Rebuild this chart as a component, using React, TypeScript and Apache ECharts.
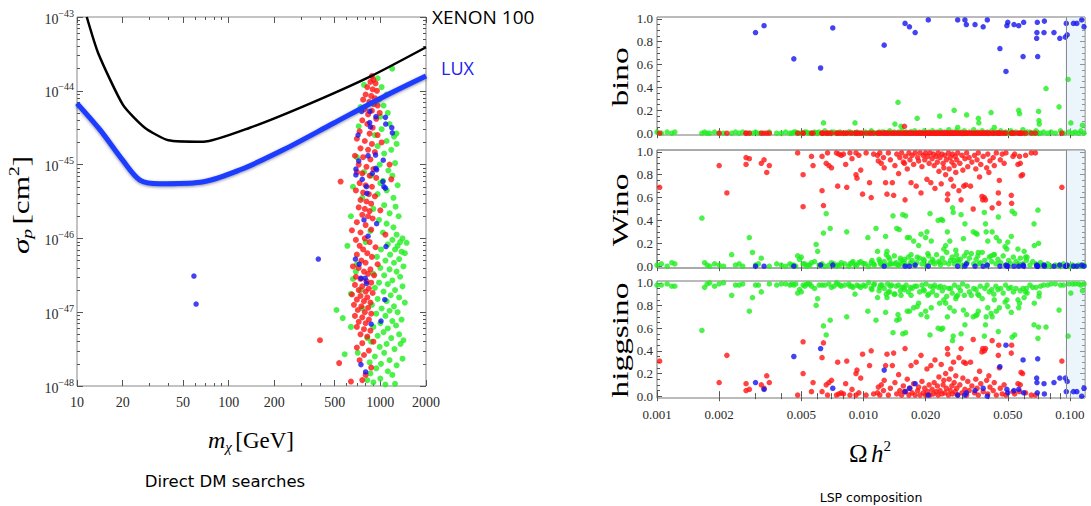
import React, { useEffect, useRef } from "react";
import * as echarts from "echarts";

// ---------- tick labels ----------
const massTicks = [10, 20, 50, 100, 200, 500, 1000, 2000];
const massMinor = [30, 40, 60, 70, 80, 90, 300, 400, 600, 700, 800, 900];
const sigmaTicks = [-48, -47, -46, -45, -44, -43];
const omegaTicks = [0.001, 0.002, 0.005, 0.01, 0.02, 0.05, 0.1];
const omegaMinor = [0.003, 0.004, 0.006, 0.007, 0.008, 0.009, 0.03, 0.04, 0.06, 0.07, 0.08, 0.09];
const fracTicks = [0, 0.2, 0.4, 0.6, 0.8, 1.0];
const fracMinor = [0.05, 0.1, 0.15, 0.25, 0.3, 0.35, 0.45, 0.5, 0.55, 0.65, 0.7, 0.75, 0.85, 0.9, 0.95];
const panelNames = ["bino", "Wino", "higgsino"];
const relicBand = [0.095, 0.1183];

// ---------- exclusion limits: [mass GeV, log10 sigma_p cm^2] ----------
const xenon100Limit = [[11.6, -43.0], [13.8, -43.49], [20.1, -44.19], [28, -44.5], [40, -44.67], [68, -44.69], [138, -44.5], [328, -44.19], [890, -43.79], [2000, -43.41]];
const luxLimit = [[10, -44.17], [14.2, -44.53], [20, -44.94], [26, -45.21], [35, -45.26], [65, -45.24], [119, -45.07], [229, -44.8], [490, -44.44], [1050, -44.08], [2000, -43.8]];

// ---------- direct detection scan points: [mass GeV, log10 sigma_p] ----------
const directBlue = [[59, -46.51], [61, -46.89], [390, -46.28], [753, -44.28], [853, -44.28], [850, -44.43], [860, -44.49], [935, -44.35], [713, -44.6], [1080, -44.36], [1085, -44.45], [1190, -44.5], [1200, -44.57], [720, -44.95], [690, -45.06], [690, -45.14], [760, -45.2], [830, -44.88], [930, -44.87], [935, -45.05], [945, -45.07], [885, -45.12], [1045, -44.94], [1040, -45.23], [1055, -45.3], [1080, -45.32], [810, -45.3], [815, -45.39], [780, -45.75], [945, -45.8], [830, -45.97], [1090, -46.11], [685, -46.28], [725, -46.35], [745, -46.54], [795, -46.54], [810, -46.61], [1070, -46.83], [870, -47.16], [1010, -47.12], [745, -47.71], [800, -47.81]];
const directRed = [[880, -43.8], [900, -43.85], [860, -43.88], [930, -43.9], [820, -43.95], [890, -43.98], [950, -44.0], [800, -44.05], [870, -44.07], [920, -44.1], [770, -44.12], [845, -44.15], [905, -44.18], [960, -44.2], [790, -44.25], [880, -44.27], [830, -44.32], [990, -44.3], [940, -44.38], [760, -44.4], [820, -44.45], [890, -44.5], [730, -44.55], [850, -44.58], [960, -44.6], [700, -44.65], [790, -44.68], [880, -44.72], [1020, -44.7], [740, -44.78], [830, -44.8], [920, -44.83], [680, -44.88], [770, -44.9], [860, -44.93], [1150, -45.0], [720, -45.0], [810, -45.03], [900, -45.06], [700, -45.1], [760, -45.12], [850, -45.15], [940, -45.18], [1180, -45.2], [547, -45.23], [730, -45.25], [800, -45.28], [880, -45.3], [690, -45.35], [770, -45.38], [840, -45.4], [920, -45.43], [740, -45.48], [810, -45.5], [870, -45.53], [720, -45.58], [790, -45.6], [850, -45.63], [1000, -45.62], [760, -45.68], [830, -45.7], [890, -45.73], [700, -45.78], [800, -45.82], [650, -45.89], [870, -45.88], [740, -45.92], [1080, -45.95], [790, -46.0], [690, -46.02], [850, -46.05], [730, -46.1], [930, -46.12], [770, -46.15], [820, -46.2], [700, -46.22], [880, -46.25], [750, -46.3], [800, -46.33], [960, -46.35], [660, -46.38], [720, -46.4], [860, -46.42], [780, -46.45], [830, -46.48], [910, -46.5], [690, -46.52], [740, -46.55], [810, -46.58], [870, -46.6], [680, -46.63], [760, -46.65], [840, -46.68], [720, -46.7], [800, -46.72], [890, -46.74], [650, -46.76], [740, -46.78], [820, -46.8], [700, -46.83], [780, -46.85], [860, -46.87], [670, -46.9], [750, -46.92], [830, -46.94], [710, -46.97], [790, -47.0], [870, -47.02], [680, -47.05], [760, -47.07], [840, -47.1], [720, -47.13], [800, -47.15], [700, -47.2], [780, -47.23], [860, -47.25], [740, -47.3], [820, -47.33], [400, -47.38], [900, -47.4], [760, -47.42], [700, -47.48], [840, -47.52], [780, -47.58], [535, -47.69], [730, -47.65], [870, -47.75], [800, -47.85], [640, -47.94], [760, -47.92]];
const directGreen = [[1197, -43.7], [960, -43.83], [1020, -43.95], [780, -43.92], [1100, -44.05], [980, -44.12], [1050, -44.2], [740, -44.22], [1120, -44.3], [1000, -44.35], [1277, -44.58], [1150, -44.45], [720, -44.48], [1020, -44.52], [1230, -44.62], [1100, -44.68], [960, -44.75], [1280, -44.72], [1180, -44.8], [1060, -44.85], [1250, -44.98], [990, -45.0], [1130, -45.08], [780, -45.1], [1200, -45.15], [1040, -45.22], [1300, -45.28], [1100, -45.35], [960, -45.4], [1220, -45.45], [1260, -45.57], [1060, -45.55], [900, -45.6], [1150, -45.66], [1320, -45.7], [980, -45.75], [1100, -45.8], [1220, -45.85], [860, -45.9], [1040, -45.92], [1280, -45.95], [606, -46.1], [1450, -46.2], [1490, -46.06], [1400, -46.0], [1350, -46.05], [1300, -46.1], [1200, -46.02], [1120, -46.08], [1010, -46.15], [1250, -46.15], [1380, -46.18], [1160, -46.22], [950, -46.25], [1330, -46.28], [1080, -46.3], [1230, -46.33], [700, -46.35], [1420, -46.38], [1000, -46.4], [1150, -46.42], [1280, -46.45], [900, -46.48], [1060, -46.5], [1350, -46.52], [660, -46.55], [1200, -46.57], [980, -46.6], [1120, -46.62], [1400, -46.65], [920, -46.67], [1250, -46.7], [1050, -46.72], [640, -46.75], [1170, -46.77], [1330, -46.8], [960, -46.82], [1100, -46.85], [1450, -46.87], [880, -46.9], [1230, -46.92], [1020, -46.95], [514, -46.97], [1150, -46.98], [1300, -47.0], [940, -47.02], [1080, -47.05], [565, -47.08], [1380, -47.1], [1200, -47.12], [1000, -47.15], [1270, -47.18], [900, -47.2], [1120, -47.22], [1050, -47.27], [1330, -47.3], [960, -47.32], [1180, -47.35], [1420, -47.38], [870, -47.4], [1100, -47.43], [1360, -47.43], [990, -47.47], [1240, -47.5], [582, -47.57], [1060, -47.55], [920, -47.6], [1400, -47.63], [1150, -47.65], [850, -47.68], [1010, -47.7], [1280, -47.72], [940, -47.76], [1120, -47.8], [860, -47.83], [1200, -47.85], [1000, -47.9], [900, -47.95], [1250, -47.97], [1080, -47.98], [820, -47.92], [700, -44.9], [660, -45.3], [640, -45.7], [920, -44.6], [760, -45.45], [1000, -45.25], [870, -45.15], [690, -46.45], [760, -46.95], [820, -47.35], [710, -47.55], [640, -47.2], [800, -46.05], [740, -46.7]];

// ---------- LSP composition points: [Omega h^2, bino, wino, higgsino] ----------
const lspBlue = [[0.003, 0.88, 0.0, 0.12], [0.0033, 0.94, 0.0, 0.06], [0.0046, 0.65, 0.0, 0.35], [0.0062, 0.57, 0.01, 0.42], [0.0071, 0.92, 0.01, 0.07], [0.0126, 0.77, 0.0, 0.23], [0.0159, 0.96, 0.0, 0.04], [0.0167, 0.93, 0.0, 0.07], [0.0178, 0.88, 0.01, 0.11], [0.0206, 0.99, 0.0, 0.01], [0.0286, 0.99, 0.0, 0.01], [0.031, 0.99, 0.0, 0.01], [0.0315, 0.95, 0.02, 0.03], [0.0347, 0.95, 0.0, 0.05], [0.038, 0.93, 0.0, 0.07], [0.0398, 0.99, 0.01, 0.0], [0.0458, 0.74, 0.0, 0.26], [0.049, 0.54, 0.01, 0.45], [0.0495, 0.94, 0.0, 0.06], [0.05, 0.97, 0.0, 0.03], [0.0536, 0.95, 0.0, 0.05], [0.0565, 0.94, 0.0, 0.06], [0.0593, 0.67, 0.01, 0.32], [0.0597, 0.97, 0.0, 0.03], [0.069, 0.83, 0.01, 0.16], [0.0692, 0.88, 0.0, 0.12], [0.0695, 0.97, 0.0, 0.03], [0.0698, 0.67, 0.0, 0.33], [0.0749, 0.88, 0.01, 0.11], [0.0752, 0.98, 0.0, 0.02], [0.0837, 0.88, 0.0, 0.12], [0.0893, 0.83, 0.01, 0.16], [0.095, 0.84, 0.0, 0.16], [0.096, 0.96, 0.0, 0.04], [0.097, 0.86, 0.01, 0.13], [0.104, 0.96, 0.0, 0.04], [0.108, 0.96, 0.0, 0.04], [0.114, 0.99, 0.01, 0.0], [0.117, 0.93, 0.0, 0.07]];
const lspRed = [[0.00103, 0, 0.69, 0.31], [0.002, 0, 0.88, 0.12], [0.00218, 0, 0.64, 0.36], [0.0027, 0, 0.95, 0.05], [0.0027, 0, 0.89, 0.11], [0.0028, 0, 0.94, 0.06], [0.0032, 0, 0.9, 0.1], [0.0033, 0, 0.93, 0.07], [0.0034, 0, 0.82, 0.18], [0.0035, 0, 0.88, 0.12], [0.0048, 0, 0.99, 0.01], [0.0051, 0, 0.52, 0.48], [0.0051, 0, 0.8, 0.2], [0.0056, 0, 0.96, 0.04], [0.0057, 0, 0.88, 0.12], [0.0063, 0, 0.96, 0.04], [0.0063, 0, 0.66, 0.34], [0.0064, 0, 0.53, 0.47], [0.0066, 0, 0.9, 0.1], [0.0067, 0, 0.99, 0.01], [0.0068, 0, 0.88, 0.12], [0.007, 0, 0.86, 0.14], [0.0074, 0, 0.99, 0.01], [0.0075, 0, 0.7, 0.3], [0.0076, 0, 0.98, 0.02], [0.0078, 0, 0.97, 0.03], [0.008, 0, 0.98, 0.02], [0.0082, 0, 0.89, 0.11], [0.0083, 0, 0.69, 0.31], [0.0086, 0, 0.99, 0.01], [0.0088, 0, 0.94, 0.06], [0.0092, 0, 0.99, 0.01], [0.0092, 0, 0.8, 0.2], [0.0093, 0, 0.77, 0.23], [0.0095, 0, 0.97, 0.03], [0.0097, 0, 0.84, 0.16], [0.0099, 0, 0.63, 0.37], [0.0103, 0, 0.99, 0.01], [0.0107, 0, 0.73, 0.27], [0.0109, 0, 0.6, 0.4], [0.0112, 0, 0.98, 0.02], [0.0117, 0, 0.97, 0.03], [0.0118, 0, 0.92, 0.08], [0.012, 0, 0.99, 0.01], [0.0122, 0, 0.9, 0.1], [0.0125, 0, 0.95, 0.05], [0.0126, 0, 0.86, 0.14], [0.0128, 0, 0.73, 0.27], [0.013, 0, 0.63, 0.37], [0.0132, 0, 0.99, 0.01], [0.0135, 0, 0.93, 0.07], [0.0138, 0, 0.73, 0.27], [0.014, 0, 0.62, 0.38], [0.0142, 0, 0.88, 0.12], [0.0145, 0, 0.98, 0.02], [0.0148, 0, 0.81, 0.19], [0.015, 0, 0.95, 0.05], [0.0153, 0, 0.99, 0.01], [0.0156, 0, 0.91, 0.09], [0.0158, 0.06, 0.9, 0.04], [0.0159, 0, 0.58, 0.42], [0.016, 0, 0.96, 0.04], [0.0163, 0, 0.85, 0.15], [0.0166, 0, 0.99, 0.01], [0.0168, 0, 0.93, 0.07], [0.017, 0, 0.73, 0.27], [0.0172, 0, 0.97, 0.03], [0.0175, 0, 0.89, 0.11], [0.0178, 0, 0.99, 0.01], [0.018, 0, 0.7, 0.3], [0.0183, 0, 0.95, 0.05], [0.0185, 0, 0.92, 0.08], [0.0188, 0, 0.99, 0.01], [0.019, 0, 0.64, 0.36], [0.0192, 0, 0.87, 0.13], [0.0195, 0, 0.97, 0.03], [0.0198, 0, 0.93, 0.07], [0.02, 0, 0.99, 0.01], [0.0203, 0, 0.76, 0.24], [0.0205, 0, 0.96, 0.04], [0.0208, 0, 0.9, 0.1], [0.021, 0, 0.99, 0.01], [0.0212, 0, 0.73, 0.27], [0.0215, 0, 0.94, 0.06], [0.0218, 0, 0.98, 0.02], [0.022, 0, 0.88, 0.12], [0.0222, 0, 0.68, 0.32], [0.0225, 0, 0.96, 0.04], [0.0228, 0, 0.91, 0.09], [0.023, 0, 0.99, 0.01], [0.0232, 0, 0.83, 0.17], [0.0235, 0, 0.95, 0.05], [0.0238, 0, 0.72, 0.28], [0.024, 0, 0.98, 0.02], [0.0243, 0, 0.9, 0.1], [0.0245, 0, 0.86, 0.14], [0.0248, 0, 0.97, 0.03], [0.025, 0, 0.8, 0.2], [0.0252, 0, 0.93, 0.07], [0.0255, 0, 0.58, 0.42], [0.0256, 0, 0.63, 0.37], [0.0258, 0, 0.99, 0.01], [0.026, 0, 0.85, 0.15], [0.0263, 0, 0.95, 0.05], [0.0265, 0, 0.76, 0.24], [0.0268, 0, 0.91, 0.09], [0.027, 0, 0.98, 0.02], [0.0273, 0, 0.7, 0.3], [0.0275, 0, 0.88, 0.12], [0.0278, 0, 0.96, 0.04], [0.028, 0, 0.82, 0.18], [0.0283, 0, 0.93, 0.07], [0.0286, 0, 0.99, 0.01], [0.029, 0, 0.66, 0.34], [0.0293, 0, 0.9, 0.1], [0.0297, 0, 0.58, 0.42], [0.03, 0, 0.97, 0.03], [0.0303, 0, 0.84, 0.16], [0.0306, 0, 0.7, 0.3], [0.031, 0, 0.94, 0.06], [0.0313, 0, 0.71, 0.29], [0.0316, 0, 0.99, 0.01], [0.032, 0, 0.87, 0.13], [0.0325, 0, 0.95, 0.05], [0.033, 0, 0.7, 0.3], [0.0335, 0, 0.91, 0.09], [0.034, 0, 0.5, 0.5], [0.0345, 0, 0.97, 0.03], [0.035, 0, 0.85, 0.15], [0.0355, 0, 0.93, 0.07], [0.036, 0, 0.99, 0.01], [0.0365, 0, 0.78, 0.22], [0.037, 0, 0.89, 0.11], [0.0375, 0, 0.61, 0.39], [0.0378, 0, 0.58, 0.42], [0.038, 0, 0.96, 0.04], [0.0385, 0, 0.6, 0.4], [0.039, 0, 0.58, 0.42], [0.0395, 0, 0.86, 0.14], [0.04, 0, 0.98, 0.02], [0.0405, 0, 0.82, 0.18], [0.041, 0, 0.92, 0.08], [0.042, 0, 0.51, 0.49], [0.0425, 0, 0.95, 0.05], [0.043, 0, 0.88, 0.12], [0.044, 0, 0.99, 0.01], [0.045, 0, 0.64, 0.36], [0.0452, 0, 0.55, 0.45], [0.0455, 0, 0.75, 0.25], [0.046, 0, 0.93, 0.07], [0.047, 0, 0.98, 0.02], [0.048, 0, 0.9, 0.1], [0.049, 0, 0.99, 0.01], [0.052, 0, 0.62, 0.38], [0.0522, 0, 0.55, 0.45], [0.053, 0, 0.96, 0.04], [0.054, 0, 0.98, 0.02], [0.056, 0, 0.89, 0.11], [0.057, 0, 0.96, 0.04], [0.0575, 0, 0.9, 0.1], [0.058, 0, 0.79, 0.21], [0.059, 0, 0.8, 0.2], [0.061, 0, 0.97, 0.03], [0.065, 0, 0.99, 0.01], [0.068, 0, 0.99, 0.01], [0.0914, 0, 0.69, 0.31]];
const lspGreen = [[0.001, 0.01, 0.01, 0.98], [0.00105, 0, 0.02, 0.98], [0.00112, 0.01, 0.0, 0.99], [0.00118, 0, 0.03, 0.97], [0.00122, 0.01, 0.02, 0.97], [0.00165, 0, 0.42, 0.58], [0.0017, 0.01, 0.03, 0.96], [0.00175, 0, 0.01, 0.99], [0.0018, 0, 0.0, 1.0], [0.0019, 0.01, 0.02, 0.97], [0.002, 0, 0.01, 0.99], [0.0021, 0, 0.0, 1.0], [0.0023, 0, 0.1, 0.89], [0.0024, 0.01, 0.01, 0.98], [0.0025, 0, 0.02, 0.98], [0.0026, 0.01, 0.0, 0.99], [0.0028, 0, 0.25, 0.75], [0.0029, 0, 0.12, 0.87], [0.003, 0.01, 0.01, 0.98], [0.0031, 0, 0.02, 0.98], [0.0032, 0, 0.07, 0.92], [0.0035, 0.01, 0.0, 0.99], [0.0038, 0, 0.02, 0.98], [0.004, 0, 0.01, 0.99], [0.0042, 0.01, 0.0, 0.99], [0.0044, 0, 0.02, 0.98], [0.0045, 0, 0.01, 0.99], [0.0046, 0.01, 0.01, 0.98], [0.0047, 0.01, 0.0, 0.99], [0.0048, 0, 0.09, 0.91], [0.0049, 0, 0.06, 0.94], [0.005, 0, 0.08, 0.92], [0.0051, 0, 0.02, 0.98], [0.0052, 0.01, 0.02, 0.97], [0.0053, 0.01, 0.0, 0.99], [0.0054, 0, 0.01, 0.99], [0.0055, 0, 0.01, 0.99], [0.0056, 0, 0.03, 0.97], [0.0058, 0.01, 0.04, 0.95], [0.0059, 0, 0.19, 0.8], [0.006, 0, 0.13, 0.86], [0.0061, 0.01, 0.01, 0.98], [0.0063, 0, 0.02, 0.98], [0.0064, 0.09, 0.29, 0.62], [0.0065, 0.02, 0.0, 0.98], [0.0066, 0, 0.46, 0.54], [0.0068, 0, 0.01, 0.99], [0.0069, 0, 0.33, 0.67], [0.007, 0.01, 0.03, 0.96], [0.0072, 0.01, 0.02, 0.97], [0.0074, 0, 0.0, 1.0], [0.0075, 0, 0.01, 0.99], [0.0077, 0.01, 0.01, 0.98], [0.0078, 0, 0.03, 0.97], [0.0081, 0, 0.02, 0.98], [0.0083, 0, 0.3, 0.7], [0.0085, 0.01, 0.0, 0.99], [0.0086, 0.01, 0.02, 0.97], [0.0088, 0, 0.03, 0.97], [0.0089, 0, 0.04, 0.96], [0.0091, 0.09, 0.01, 0.9], [0.0093, 0.01, 0.01, 0.98], [0.0095, 0, 0.03, 0.97], [0.0097, 0, 0.04, 0.96], [0.01, 0, 0.02, 0.98], [0.0102, 0.01, 0.02, 0.97], [0.0105, 0, 0.25, 0.75], [0.0106, 0, 0.0, 1.0], [0.0109, 0.02, 0.03, 0.95], [0.011, 0.01, 0.05, 0.94], [0.0112, 0, 0.02, 0.98], [0.0113, 0, 0.01, 0.99], [0.0115, 0, 0.33, 0.67], [0.0117, 0, 0.13, 0.87], [0.0119, 0.01, 0.06, 0.93], [0.012, 0, 0.04, 0.96], [0.0121, 0, 0.02, 0.98], [0.0123, 0.01, 0.01, 0.98], [0.0126, 0.01, 0.04, 0.95], [0.0128, 0, 0.26, 0.74], [0.0129, 0, 0.1, 0.9], [0.013, 0, 0.13, 0.87], [0.0131, 0, 0.01, 0.99], [0.0132, 0, 0.08, 0.92], [0.0134, 0.02, 0.06, 0.92], [0.0135, 0.01, 0.02, 0.97], [0.0137, 0, 0.02, 0.98], [0.0139, 0, 0.44, 0.56], [0.0141, 0.01, 0.09, 0.9], [0.0142, 0.08, 0.02, 0.9], [0.0144, 0, 0.03, 0.97], [0.0145, 0, 0.33, 0.67], [0.0147, 0.27, 0.01, 0.72], [0.0148, 0.01, 0.01, 0.98], [0.0149, 0, 0.32, 0.68], [0.0151, 0, 0.07, 0.93], [0.0152, 0.06, 0.05, 0.89], [0.0154, 0.02, 0.02, 0.96], [0.0155, 0, 0.45, 0.55], [0.0157, 0, 0.04, 0.96], [0.0158, 0, 0.06, 0.94], [0.016, 0, 0.44, 0.56], [0.0161, 0.01, 0.01, 0.98], [0.0163, 0, 0.25, 0.75], [0.0165, 0, 0.08, 0.92], [0.0167, 0, 0.25, 0.75], [0.0169, 0.01, 0.03, 0.96], [0.017, 0.01, 0.1, 0.89], [0.0172, 0, 0.05, 0.95], [0.0175, 0, 0.22, 0.78], [0.0177, 0.02, 0.01, 0.97], [0.0181, 0, 0.03, 0.97], [0.0182, 0.13, 0.08, 0.79], [0.0185, 0, 0.18, 0.82], [0.0187, 0.01, 0.07, 0.92], [0.019, 0, 0.28, 0.72], [0.0192, 0, 0.02, 0.98], [0.0195, 0, 0.06, 0.94], [0.0197, 0.02, 0.05, 0.93], [0.02, 0, 0.25, 0.75], [0.0201, 0, 0.01, 0.99], [0.0203, 0, 0.3, 0.7], [0.0205, 0, 0.11, 0.89], [0.0207, 0.01, 0.09, 0.9], [0.021, 0, 0.46, 0.54], [0.0211, 0, 0.03, 0.97], [0.0213, 0, 0.22, 0.78], [0.0216, 0.02, 0.06, 0.92], [0.0218, 0, 0.04, 0.96], [0.0221, 0, 0.02, 0.98], [0.0226, 0.01, 0.1, 0.89], [0.023, 0, 0.4, 0.6], [0.0231, 0, 0.04, 0.96], [0.0234, 0.15, 0.03, 0.82], [0.0236, 0.02, 0.01, 0.97], [0.0238, 0, 0.41, 0.59], [0.0241, 0, 0.07, 0.93], [0.0242, 0, 0.4, 0.6], [0.0245, 0, 0.15, 0.85], [0.0247, 0.01, 0.03, 0.96], [0.025, 0, 0.18, 0.82], [0.0253, 0, 0.12, 0.88], [0.0255, 0, 0.3, 0.7], [0.0259, 0.03, 0.02, 0.95], [0.0262, 0, 0.22, 0.78], [0.0264, 0, 0.05, 0.95], [0.0269, 0.01, 0.08, 0.91], [0.027, 0, 0.51, 0.49], [0.0272, 0, 0.47, 0.53], [0.0275, 0.2, 0.05, 0.75], [0.0276, 0, 0.02, 0.98], [0.028, 0, 0.14, 0.86], [0.0282, 0.02, 0.1, 0.88], [0.0286, 0.05, 0.06, 0.89], [0.0289, 0, 0.04, 0.96], [0.0295, 0.01, 0.06, 0.93], [0.0297, 0, 0.45, 0.55], [0.0302, 0, 0.01, 0.99], [0.0305, 0, 0.24, 0.76], [0.0308, 0.02, 0.09, 0.89], [0.031, 0, 0.37, 0.63], [0.0316, 0.16, 0.12, 0.72], [0.0318, 0, 0.03, 0.97], [0.0326, 0.01, 0.07, 0.92], [0.0333, 0, 0.11, 0.89], [0.034, 0, 0.3, 0.7], [0.0342, 0.03, 0.02, 0.95], [0.035, 0, 0.29, 0.71], [0.0351, 0, 0.06, 0.94], [0.0355, 0, 0.28, 0.72], [0.0358, 0.01, 0.09, 0.9], [0.036, 0.13, 0.12, 0.75], [0.0362, 0.09, 0.02, 0.89], [0.0368, 0, 0.03, 0.97], [0.0376, 0.02, 0.12, 0.86], [0.0385, 0, 0.47, 0.53], [0.0387, 0, 0.05, 0.95], [0.039, 0, 0.37, 0.63], [0.0393, 0, 0.3, 0.7], [0.0397, 0.01, 0.01, 0.98], [0.04, 0, 0.22, 0.78], [0.0407, 0, 0.08, 0.92], [0.0415, 0.18, 0.09, 0.73], [0.0418, 0.02, 0.04, 0.94], [0.042, 0, 0.3, 0.7], [0.0428, 0, 0.1, 0.9], [0.043, 0.05, 0.1, 0.85], [0.0438, 0.01, 0.02, 0.97], [0.044, 0, 0.25, 0.75], [0.0448, 0, 0.06, 0.94], [0.045, 0, 0.43, 0.57], [0.0455, 0, 0.22, 0.78], [0.0462, 0.02, 0.03, 0.95], [0.0475, 0, 0.09, 0.91], [0.0485, 0, 0.17, 0.83], [0.0488, 0.01, 0.01, 0.98], [0.0495, 0, 0.15, 0.85], [0.05, 0, 0.21, 0.79], [0.0505, 0, 0.05, 0.95], [0.0518, 0.02, 0.02, 0.96], [0.052, 0, 0.26, 0.74], [0.0525, 0, 0.48, 0.52], [0.0532, 0, 0.08, 0.92], [0.054, 0, 0.46, 0.54], [0.0548, 0.01, 0.04, 0.95], [0.056, 0, 0.15, 0.85], [0.0565, 0.2, 0.02, 0.78], [0.057, 0.17, 0.01, 0.82], [0.0575, 0, 0.07, 0.93], [0.0592, 0.03, 0.02, 0.95], [0.06, 0, 0.13, 0.87], [0.061, 0, 0.08, 0.92], [0.0615, 0, 0.05, 0.95], [0.062, 0.01, 0.08, 0.91], [0.064, 0.01, 0.01, 0.98], [0.066, 0, 0.04, 0.96], [0.067, 0, 0.37, 0.63], [0.0672, 0, 0.18, 0.82], [0.0685, 0.02, 0.02, 0.96], [0.07, 0, 0.49, 0.51], [0.0705, 0.19, 0.2, 0.61], [0.0708, 0.11, 0.01, 0.88], [0.071, 0.08, 0.01, 0.91], [0.072, 0, 0.03, 0.97], [0.0745, 0.01, 0.01, 0.98], [0.0766, 0.39, 0.0, 0.61], [0.078, 0, 0.02, 0.98], [0.081, 0.01, 0.0, 0.99], [0.085, 0, 0.01, 0.99], [0.0886, 0.23, 0.01, 0.76], [0.09, 0.02, 0.0, 0.98], [0.093, 0, 0.02, 0.98], [0.098, 0.47, 0.0, 0.53], [0.099, 0.01, 0.0, 0.99], [0.101, 0.09, 0.0, 0.91], [0.103, 0, 0.01, 0.99], [0.106, 0.01, 0.0, 0.99], [0.11, 0, 0.01, 0.99], [0.113, 0.02, 0.0, 0.98], [0.115, 0.07, 0.0, 0.93], [0.117, 0, 0.01, 0.99]];

// ---------- helpers ----------
const L10 = Math.log10;
const SERIF = "'Liberation Serif', 'DejaVu Serif', serif";
const GREEN = "#1fee1f";
const RED = "#ff1414";
const BLUE = "#1414f0";

function tickAxis(gridIndex: number, position: string, min: number, max: number, ticks: number[], len: number, label?: any) {
  return {
    type: "value",
    gridIndex,
    position,
    min,
    max,
    axisLine: { show: false },
    splitLine: { show: false },
    axisTick: { show: true, inside: true, length: len, customValues: ticks, lineStyle: { color: "#555", width: 1 } },
    axisLabel: label
      ? { show: true, customValues: label.values, formatter: label.fmt, margin: label.margin, fontFamily: SERIF, fontSize: label.size, color: "#2a2a2a", rich: label.rich }
      : { show: false },
  };
}

function buildOption() {
  const xAxes: any[] = [];
  const yAxes: any[] = [];
  const series: any[] = [];

  // ----- left panel (grid 0) -----
  const mMin = L10(10), mMax = L10(2000);
  const mMajor = massTicks.map(L10);
  const mMinor = massMinor.map(L10);
  const sMinor: number[] = [];
  for (let d = -48; d < -43; d++) for (let k = 2; k <= 9; k++) sMinor.push(d + L10(k));
  xAxes.push(tickAxis(0, "bottom", mMin, mMax, mMajor, 6, {
    values: mMajor, fmt: (v: number) => String(Math.round(Math.pow(10, v))), margin: 9, size: 14,
  }));
  xAxes.push(tickAxis(0, "bottom", mMin, mMax, mMinor, 3));
  xAxes.push(tickAxis(0, "top", mMin, mMax, mMajor, 6));
  xAxes.push(tickAxis(0, "top", mMin, mMax, mMinor, 3));
  yAxes.push(tickAxis(0, "left", -48, -43, sigmaTicks, 6, {
    values: sigmaTicks,
    fmt: (v: number) => `{a|10}{b|\u2212${Math.round(-v)}}`,
    margin: 3, size: 14,
    rich: {
      a: { fontFamily: SERIF, fontSize: 14, color: "#2a2a2a", lineHeight: 18, verticalAlign: "bottom" },
      b: { fontFamily: SERIF, fontSize: 10, color: "#2a2a2a", lineHeight: 18, verticalAlign: "top" },
    },
  }));
  yAxes.push(tickAxis(0, "left", -48, -43, sMinor, 3));
  yAxes.push(tickAxis(0, "right", -48, -43, sigmaTicks, 6));
  yAxes.push(tickAxis(0, "right", -48, -43, sMinor, 3));

  const toLeft = (arr: number[][]) => arr.map((p) => [L10(p[0]), p[1]]);
  series.push({ type: "scatter", xAxisIndex: 0, yAxisIndex: 0, data: toLeft(directGreen), symbolSize: 6, itemStyle: { color: GREEN }, z: 2 });
  series.push({ type: "scatter", xAxisIndex: 0, yAxisIndex: 0, data: toLeft(directRed), symbolSize: 6, itemStyle: { color: RED }, z: 3 });
  series.push({ type: "scatter", xAxisIndex: 0, yAxisIndex: 0, data: toLeft(directBlue), symbolSize: 5.5, itemStyle: { color: BLUE }, z: 4 });
  series.push({ type: "line", xAxisIndex: 0, yAxisIndex: 0, data: toLeft(xenon100Limit), showSymbol: false, smooth: 0.2, lineStyle: { color: "#000", width: 2.5 }, z: 5 });
  series.push({ type: "line", xAxisIndex: 0, yAxisIndex: 0, data: toLeft(luxLimit), showSymbol: false, smooth: 0.3, lineStyle: { color: "#1a3cff", width: 5, shadowBlur: 3, shadowColor: "rgba(60,60,90,0.6)", shadowOffsetY: 1 }, z: 5 });

  // ----- right panels (grids 1..3) -----
  const oMin = L10(omegaTicks[0]), oMax = L10(relicBand[1]);
  const oMajor = omegaTicks.map(L10);
  const oMinor = omegaMinor.map(L10);
  const fMin = -0.016, fMax = 1.016;
  panelNames.forEach((name, i) => {
    const g = i + 1;
    const xi = xAxes.length;
    xAxes.push(tickAxis(g, "bottom", oMin, oMax, oMajor, 5, i === 2 ? {
      values: oMajor, fmt: (v: number) => Math.pow(10, v).toFixed(3), margin: 10, size: 13,
    } : undefined));
    xAxes.push(tickAxis(g, "bottom", oMin, oMax, oMinor, 3));
    xAxes.push(tickAxis(g, "top", oMin, oMax, oMajor, 5));
    xAxes.push(tickAxis(g, "top", oMin, oMax, oMinor, 3));
    const yi = yAxes.length;
    yAxes.push(tickAxis(g, "left", fMin, fMax, fracTicks, 5, {
      values: fracTicks, fmt: (v: number) => v.toFixed(1), margin: 4, size: 13,
    }));
    yAxes.push(tickAxis(g, "left", fMin, fMax, fracMinor, 3));
    yAxes.push(tickAxis(g, "right", fMin, fMax, fracTicks, 5));
    yAxes.push(tickAxis(g, "right", fMin, fMax, fracMinor, 3));
    const col = i + 1;
    const toPanel = (arr: number[][]) => arr.map((p) => [L10(p[0]), p[col]]);
    series.push({
      type: "scatter", xAxisIndex: xi, yAxisIndex: yi, data: toPanel(lspGreen), symbolSize: 5.5, itemStyle: { color: GREEN }, z: 2,
      markArea: { silent: true, itemStyle: { color: "rgba(214,232,248,0.45)" }, data: [[{ xAxis: L10(relicBand[0]) }, { xAxis: L10(relicBand[1]) }]] },
      markLine: { silent: true, symbol: "none", label: { show: false }, lineStyle: { color: "#8a8a8a", width: 1, type: "solid" }, data: [{ xAxis: L10(relicBand[0]) }] },
    });
    series.push({ type: "scatter", xAxisIndex: xi, yAxisIndex: yi, data: toPanel(lspRed), symbolSize: 5.5, itemStyle: { color: RED }, z: 3 });
    series.push({ type: "scatter", xAxisIndex: xi, yAxisIndex: yi, data: toPanel(lspBlue), symbolSize: 5.5, itemStyle: { color: BLUE }, z: 4 });
  });

  const panelLabelY = [77, 210, 340];
  const graphic: any[] = [
    { type: "text", x: 432, y: 17, style: { text: "XENON 100", fontFamily: "'Open Sans', 'DejaVu Sans', sans-serif", fontSize: 19, fill: "#000", verticalAlign: "middle" } },
    { type: "text", x: 441, y: 68, style: { text: "LUX", fontFamily: "'Open Sans', 'DejaVu Sans', sans-serif", fontSize: 18, fill: "#2222ee", verticalAlign: "middle" } },
    {
      type: "text", x: 21, y: 205, rotation: Math.PI / 2, scaleX: 1.3,
      style: {
        text: "{i|\u03c3}{s|p} {n|[cm}{e|2}{n|]}", align: "center", verticalAlign: "middle",
        rich: {
          i: { fontFamily: SERIF, fontSize: 24, fontStyle: "italic", lineHeight: 28, verticalAlign: "middle", fill: "#000" },
          s: { fontFamily: SERIF, fontSize: 15, fontStyle: "italic", lineHeight: 28, verticalAlign: "bottom", fill: "#000" },
          n: { fontFamily: SERIF, fontSize: 24, lineHeight: 28, verticalAlign: "middle", fill: "#000" },
          e: { fontFamily: SERIF, fontSize: 15, lineHeight: 28, verticalAlign: "top", fill: "#000" },
        },
      },
    },
    {
      type: "text", x: 251, y: 440,
      style: {
        text: "{i|m}{s|\u03c7} {n|[GeV]}", align: "center", verticalAlign: "middle",
        rich: {
          i: { fontFamily: SERIF, fontSize: 24, fontStyle: "italic", lineHeight: 28, verticalAlign: "middle", fill: "#000" },
          s: { fontFamily: SERIF, fontSize: 15, fontStyle: "italic", lineHeight: 28, verticalAlign: "bottom", fill: "#000" },
          n: { fontFamily: SERIF, fontSize: 23, lineHeight: 28, verticalAlign: "middle", fill: "#000" },
        },
      },
    },
    {
      type: "text", x: 870, y: 453,
      style: {
        text: "{n|\u03a9} {i|h}{e|2}", align: "center", verticalAlign: "middle",
        rich: {
          n: { fontFamily: SERIF, fontSize: 25, lineHeight: 30, verticalAlign: "middle", fill: "#000" },
          i: { fontFamily: SERIF, fontSize: 25, fontStyle: "italic", lineHeight: 30, verticalAlign: "middle", fill: "#000" },
          e: { fontFamily: SERIF, fontSize: 15, lineHeight: 30, verticalAlign: "top", fill: "#000" },
        },
      },
    },
    { type: "text", x: 225, y: 481, style: { text: "Direct DM searches", fontFamily: "'DejaVu Sans', sans-serif", fontSize: 16.5, fill: "#000", align: "center", verticalAlign: "middle" } },
    { type: "text", x: 871, y: 497, style: { text: "LSP composition", fontFamily: "'DejaVu Sans', sans-serif", fontSize: 12.5, fill: "#000", align: "center", verticalAlign: "middle" } },
  ];
  panelNames.forEach((name, i) => {
    graphic.push({
      type: "text", x: 620, y: panelLabelY[i], rotation: Math.PI / 2, scaleX: 1.45,
      style: { text: name, fontFamily: SERIF, fontSize: 23, fill: "#000", align: "center", verticalAlign: "middle" },
    });
  });

  return {
    animation: false,
    backgroundColor: "#fff",
    grid: [
      { left: 77, top: 17, width: 349, height: 369, show: true, borderColor: "#888", borderWidth: 1 },
      { left: 657, top: 17, width: 428, height: 118, show: true, borderColor: "#777", borderWidth: 1 },
      { left: 657, top: 150, width: 428, height: 118, show: true, borderColor: "#555", borderWidth: 1 },
      { left: 657, top: 281, width: 428, height: 117, show: true, borderColor: "#777", borderWidth: 1 },
    ],
    xAxis: xAxes,
    yAxis: yAxes,
    series,
    graphic,
  };
}

export default function App() {
  const ref = useRef<HTMLDivElement>(null);
  useEffect(() => {
    const chart = echarts.init(ref.current!, null, { renderer: "svg" });
    chart.setOption(buildOption() as any);
    return () => chart.dispose();
  }, []);
  return <div ref={ref} style={{ position: "fixed", left: 0, top: 0, width: 1091, height: 506, background: "#fff" }} />;
}
